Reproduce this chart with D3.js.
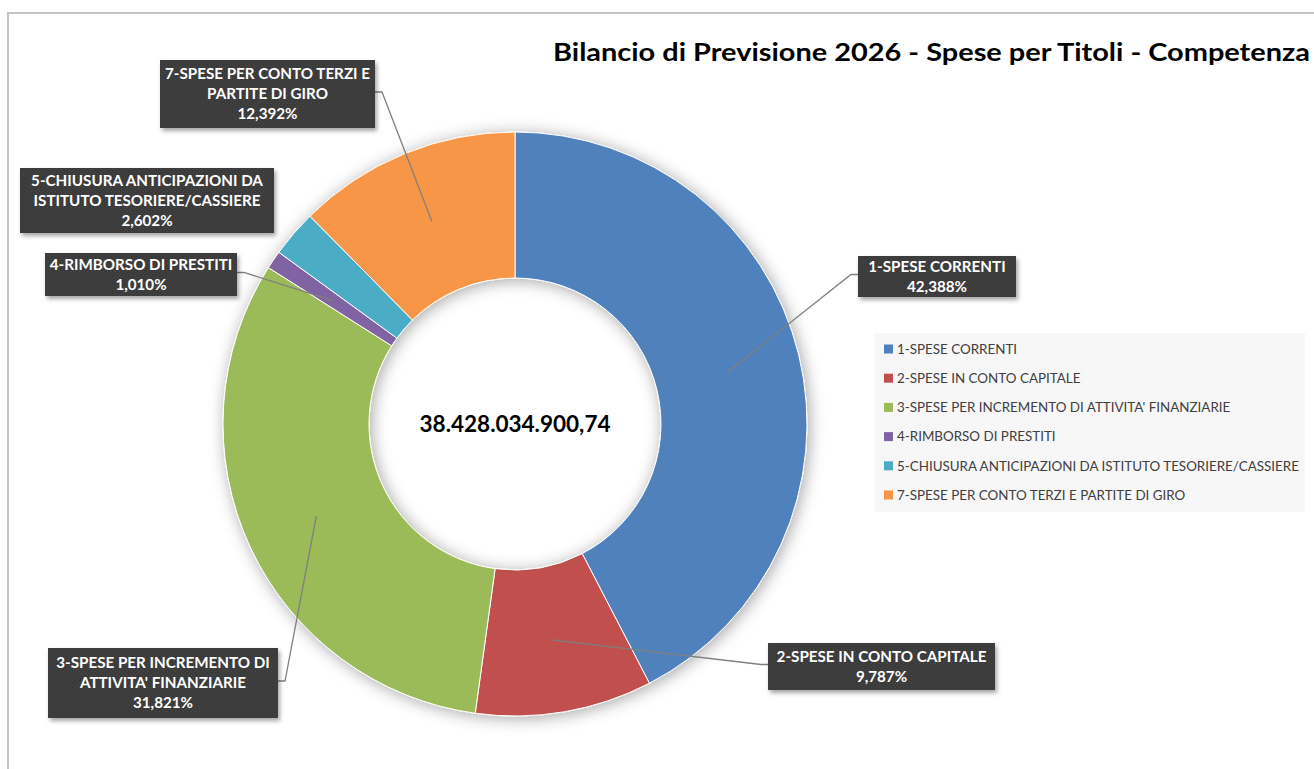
<!DOCTYPE html>
<html>
<head>
<meta charset="utf-8">
<style>
  body { margin: 0; background: #fff; }
  svg { display: block; font-family: Lato, "Liberation Sans", sans-serif; }
</style>
</head>
<body>
<svg width="1314" height="769"></svg>
<script src="https://d3js.org/d3.v7.min.js"></script>
<script>

// data (percent of total)
var categories = [
  "1-SPESE CORRENTI",
  "2-SPESE IN CONTO CAPITALE",
  "3-SPESE PER INCREMENTO DI ATTIVITA' FINANZIARIE",
  "4-RIMBORSO DI PRESTITI",
  "5-CHIUSURA ANTICIPAZIONI DA ISTITUTO TESORIERE/CASSIERE",
  "7-SPESE PER CONTO TERZI E PARTITE DI GIRO"
];
var values = [42.388, 9.787, 31.821, 1.010, 2.602, 12.392];
var boxLines = [
  ["1-SPESE CORRENTI"],
  ["2-SPESE IN CONTO CAPITALE"],
  ["3-SPESE PER INCREMENTO DI", "ATTIVITA' FINANZIARIE"],
  ["4-RIMBORSO DI PRESTITI"],
  ["5-CHIUSURA ANTICIPAZIONI DA", "ISTITUTO TESORIERE/CASSIERE"],
  ["7-SPESE PER CONTO TERZI E", "PARTITE DI GIRO"]
];
var total = "38.428.034.900,74";
var title = "Bilancio di Previsione 2026 - Spese per Titoli - Competenza";

var colors = ["#4f81bd", "#c0504d", "#9bbb59", "#8064a2", "#4bacc6", "#f79646"];

var svg = d3.select("svg");

// label box layout (x, y, w, h, side the leader leaves from)
var boxes = [
  {x: 858, y: 256, w: 158, h: 41, side: "left"},
  {x: 768, y: 643, w: 227, h: 47, side: "left"},
  {x: 48, y: 648, w: 230, h: 70, side: "right"},
  {x: 45, y: 253, w: 192, h: 43, side: "right"},
  {x: 20, y: 168, w: 254, h: 65, side: "none"},
  {x: 160, y: 60, w: 215, h: 68, side: "right"}
];

var defs = svg.append("defs");
var glow = defs.append("filter").attr("id", "glow")
    .attr("x", "-20%").attr("y", "-20%").attr("width", "140%").attr("height", "140%");
glow.append("feDropShadow").attr("dx", 2).attr("dy", 2).attr("stdDeviation", 8)
    .attr("flood-color", "#000").attr("flood-opacity", 0.35);
var shadow = defs.append("filter").attr("id", "shadow")
    .attr("x", "-10%").attr("y", "-20%").attr("width", "130%").attr("height", "150%");
shadow.append("feDropShadow").attr("dx", 2).attr("dy", 3).attr("stdDeviation", 2)
    .attr("flood-color", "#000").attr("flood-opacity", 0.35);
var pat = defs.append("pattern").attr("id", "dots")
    .attr("width", 4).attr("height", 4).attr("patternUnits", "userSpaceOnUse");
pat.append("rect").attr("width", 4).attr("height", 4).attr("fill", "#3a3a3a");
pat.append("rect").attr("x", 1).attr("y", 1).attr("width", 1).attr("height", 1).attr("fill", "#4a4a4a");
pat.append("rect").attr("x", 3).attr("y", 3).attr("width", 1).attr("height", 1).attr("fill", "#4a4a4a");

// chart area border
svg.append("rect")
    .attr("x", 8).attr("y", 13).attr("width", 1400).attr("height", 800)
    .attr("fill", "none").attr("stroke", "#c4c4c4").attr("stroke-width", 2);

svg.append("text")
    .attr("x", 553).attr("y", 61)
    .attr("font-size", 24).attr("font-weight", "bold").attr("fill", "#000")
    .attr("textLength", 757).attr("lengthAdjust", "spacingAndGlyphs")
    .text(title);

var cx = 515, cy = 424, outerR = 292, innerR = 146;

var pie = d3.pie().sort(null).value(function(d) { return d; });
var arc = d3.arc().innerRadius(innerR).outerRadius(outerR);
var arcs = pie(values);

var g = svg.append("g").attr("transform", "translate(" + cx + "," + cy + ")");

g.append("g").attr("filter", "url(#glow)")
  .selectAll("path")
  .data(arcs)
  .enter().append("path")
    .attr("d", arc)
    .attr("fill", function(d, i) { return colors[i]; })
    .attr("stroke", "#fff")
    .attr("stroke-width", 1);

g.append("text")
    .attr("y", 8)
    .attr("text-anchor", "middle")
    .attr("font-size", 22.5).attr("font-weight", "bold").attr("fill", "#000")
    .text(total);

// leader lines
var fmt = function(v) { return d3.format(".3f")(v).replace(".", ",") + "%"; };

arcs.forEach(function(d, i) {
  var b = boxes[i];
  if (b.side === "none") return;
  var c = arc.centroid(d);
  var ax = b.side === "left" ? b.x : b.x + b.w;
  var ay = b.y + b.h / 2 - 2;
  var stub = b.side === "left" ? -7 : 7;
  svg.append("path")
      .attr("d", d3.line()([[ax, ay], [ax + stub, ay], [cx + c[0], cy + c[1]]]))
      .attr("fill", "none").attr("stroke", "#7f7f7f").attr("stroke-width", 1.3);
});

// data label boxes
var lab = svg.append("g").selectAll("g")
  .data(arcs)
  .enter().append("g");

lab.append("rect")
    .attr("x", function(d, i) { return boxes[i].x; })
    .attr("y", function(d, i) { return boxes[i].y; })
    .attr("width", function(d, i) { return boxes[i].w; })
    .attr("height", function(d, i) { return boxes[i].h; })
    .attr("fill", "url(#dots)")
    .attr("filter", "url(#shadow)");

lab.each(function(d, i) {
  var b = boxes[i];
  var lines = boxLines[i].concat([fmt(values[i])]);
  var lh = 20;
  var top = b.y + b.h / 2 - (lines.length - 1) * lh / 2;
  var t = d3.select(this).append("text")
      .attr("text-anchor", "middle")
      .attr("font-size", 15.2).attr("font-weight", "bold").attr("fill", "#fff");
  lines.forEach(function(s, k) {
    t.append("tspan")
        .attr("x", b.x + b.w / 2)
        .attr("y", top + k * lh)
        .attr("dy", "0.36em")
        .text(s);
  });
});

// legend
var leg = svg.append("g");
leg.append("rect")
    .attr("x", 875).attr("y", 333).attr("width", 430).attr("height", 179)
    .attr("fill", "#f7f7f7");

var ly = d3.scalePoint().domain(categories).range([349, 495]);

var item = leg.selectAll("g.item")
  .data(categories)
  .enter().append("g").attr("class", "item")
    .attr("transform", function(d) { return "translate(884," + ly(d) + ")"; });

item.append("rect")
    .attr("x", 0).attr("y", -4.5).attr("width", 9).attr("height", 9)
    .attr("fill", function(d, i) { return colors[i]; });

item.append("text")
    .attr("x", 13).attr("dy", "0.36em")
    .attr("font-size", 13.4).attr("fill", "#404040")
    .text(function(d) { return d; });

</script>
</body>
</html>
